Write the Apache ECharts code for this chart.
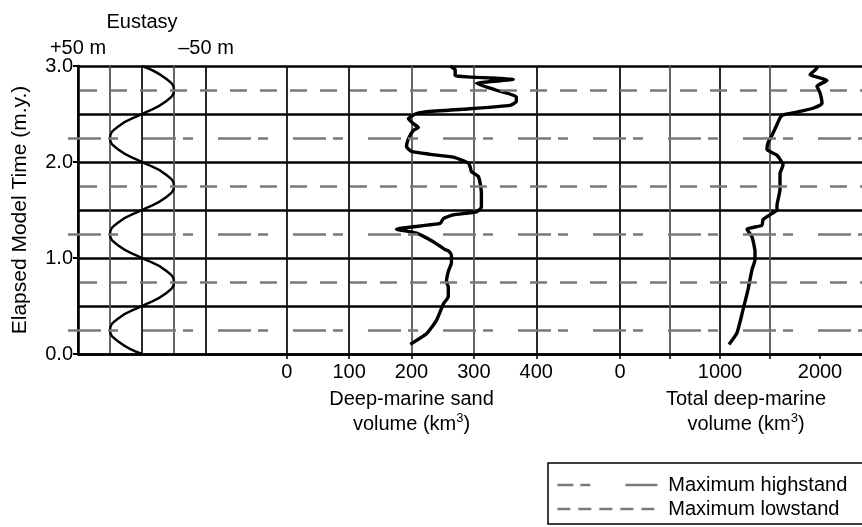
<!DOCTYPE html>
<html>
<head>
<meta charset="utf-8">
<script src="https://cdn.jsdelivr.net/npm/echarts@6/dist/echarts.min.js"></script>
<style>
  html, body { margin: 0; padding: 0; background: #fff; }
  #chart { width: 862px; height: 527px; }
</style>
</head>
<body>
<div id="chart"></div>
<script>
// ---- Data ----------------------------------------------------------------
// Eustatic sea level (m) through elapsed model time (m.y.)
const eustasyTime  = [0, 0.125, 0.25, 0.375, 0.5, 0.625, 0.75, 0.875, 1.0,
                      1.125, 1.25, 1.375, 1.5, 1.625, 1.75, 1.875, 2.0,
                      2.125, 2.25, 2.375, 2.5, 2.625, 2.75, 2.875, 3.0];
const eustasyLevel = [0, 18, 25, 18, 0, -18, -25, -18, 0,
                      18, 25, 18, 0, -18, -25, -18, 0,
                      18, 25, 18, 0, -18, -25, -18, 0];

// Deep-marine sand volume (km3)
const sandTime   = [0.10, 0.21, 0.35, 0.52, 0.60, 0.70, 0.75, 0.86, 0.95, 1.03, 1.07, 1.09,
                    1.17, 1.26, 1.30, 1.36, 1.41, 1.45, 1.48, 1.53, 1.67, 1.78, 1.85, 1.90,
                    1.95, 1.99, 2.05, 2.08, 2.11, 2.16, 2.24, 2.33, 2.36, 2.40, 2.45, 2.50,
                    2.52, 2.55, 2.59, 2.63, 2.68, 2.75, 2.82, 2.86, 2.90, 2.96, 3.00];
const sandVolume = [198, 224, 240, 251, 259, 259, 256, 259, 264, 264, 260, 253,
                    235, 208, 176, 246, 251, 267, 304, 312, 312, 310, 307, 296,
                    294, 291, 267, 230, 200, 192, 195, 203, 211, 203, 195, 206,
                    219, 283, 358, 368, 368, 335, 304, 363, 270, 270, 262];

// Total deep-marine volume (km3)
const totalTime   = [0.10, 0.22, 0.46, 0.67, 0.88, 0.98, 1.07, 1.22, 1.30, 1.34, 1.40,
                     1.45, 1.50, 1.55, 1.71, 1.88, 1.97, 2.07, 2.13, 2.20, 2.30, 2.39,
                     2.46, 2.49, 2.52, 2.56, 2.61, 2.72, 2.79, 2.85, 2.91, 2.98, 3.00];
const totalVolume = [1090, 1170, 1230, 1280, 1320, 1350, 1350, 1320, 1270, 1420, 1430,
                     1500, 1570, 1570, 1600, 1600, 1630, 1570, 1470, 1480, 1530, 1570,
                     1600, 1630, 1770, 1930, 2020, 2000, 1970, 2070, 1900, 1970, 1970];

// Times of maximum highstand / lowstand (m.y.)
const highstandTimes = [0.25, 1.25, 2.25];
const lowstandTimes  = [0.75, 1.75, 2.75];

// Labelled ticks
const timeTicks  = [0, 1, 2, 3];
const sandTicks  = [0, 100, 200, 300, 400];
const totalTicks = [0, 1000, 2000];
const totalTickMarks = [0, 500, 1000, 1500, 2000];

// ---- Styling / layout ----------------------------------------------------
const FONT = '"Liberation Sans", Arial, Helvetica, sans-serif';
const GRAY = '#7a7a7a';
const TOP = 66, BOTTOM = 527 - 354;
const HIGH_DASH = [33, 7, 10, 25];
const LOW_DASH = [17, 13];
const NO_SYMBOL = { color: 'rgba(0,0,0,0)', borderWidth: 0, opacity: 0 };

const zip = (xs, ys) => xs.map((x, i) => [x, ys[i]]);

const hiddenY = (gi) => ({ type: 'value', gridIndex: gi, min: 0, max: 3, show: false });

const nameRich = {
  sup: { fontSize: 13, verticalAlign: 'top', lineHeight: 18, fontFamily: FONT, color: '#000' }
};

const chart = echarts.init(document.getElementById('chart'), null, { renderer: 'canvas' });

chart.setOption({
  animation: false,
  textStyle: { fontFamily: FONT },
  grid: [
    // 0: frame with time axis and horizontal rules
    { left: 78, right: 0, top: TOP, bottom: BOTTOM },
    // 1: overlay for highstand / lowstand markers (reaches slightly left of the axis)
    { left: 68, right: 0, top: TOP, bottom: BOTTOM },
    // 2: eustasy panel
    { left: 78, width: 128, top: TOP, bottom: BOTTOM },
    // 3: deep-marine sand panel
    { left: 286.7, width: 249.6, top: TOP, bottom: BOTTOM },
    // 4: total deep-marine panel
    { left: 620, right: 0, top: TOP, bottom: BOTTOM }
  ],
  xAxis: [
    {
      type: 'value', gridIndex: 0, min: 0, max: 1,
      axisLine: { show: true, onZero: false, lineStyle: { color: '#000', width: 2.6 } },
      axisTick: { show: false }, axisLabel: { show: false }, splitLine: { show: false }
    },
    { type: 'value', gridIndex: 1, min: 0, max: 1, show: false },
    {
      type: 'value', gridIndex: 2, position: 'top', inverse: true,
      min: -50, max: 50, interval: 25,
      name: 'Eustasy', nameLocation: 'middle', nameGap: 34,
      nameTextStyle: { fontSize: 20, color: '#000', fontFamily: FONT },
      axisLine: { show: false }, axisTick: { show: false },
      axisLabel: {
        fontSize: 20, color: '#000', margin: 8, fontFamily: FONT,
        formatter: v => v === 50 ? '+50 m' : (v === -50 ? '\u201350 m' : '')
      },
      splitLine: { show: true, lineStyle: { color: ['#111', '#555', '#111', '#555', '#111'], width: 1.8 } }
    },
    {
      type: 'value', gridIndex: 3, position: 'bottom', min: 0, max: 400, interval: 100,
      name: 'Deep-marine sand\nvolume (km{sup|3})', nameLocation: 'middle', nameGap: 29,
      nameTextStyle: { fontSize: 20, lineHeight: 25, color: '#000', fontFamily: FONT, rich: nameRich },
      axisLine: { show: false },
      axisTick: { show: true, length: 5, lineStyle: { color: '#000', width: 1.5 } },
      axisLabel: {
        fontSize: 20, color: '#000', margin: 8, fontFamily: FONT,
        formatter: v => sandTicks.includes(v) ? String(v) : ''
      },
      splitLine: { show: true, lineStyle: { color: ['#111', '#111', '#555', '#555', '#111'], width: 1.8 } }
    },
    {
      type: 'value', gridIndex: 4, position: 'bottom', min: 0, max: 2420, interval: 500,
      name: 'Total deep-marine\nvolume (km{sup|3})', nameLocation: 'middle', nameGap: 29,
      nameTextStyle: { fontSize: 20, lineHeight: 25, color: '#000', fontFamily: FONT, rich: nameRich, padding: [0, 0, 0, 10] },
      axisLine: { show: false },
      axisTick: { show: true, length: 5, customValues: totalTickMarks, lineStyle: { color: '#000', width: 1.5 } },
      axisLabel: {
        fontSize: 20, color: '#000', margin: 8, fontFamily: FONT,
        customValues: totalTicks,
        formatter: v => String(v)
      },
      splitLine: { show: true, showMaxLine: false, lineStyle: { color: ['#111', '#555'], width: 1.8 } }
    }
  ],
  yAxis: [
    {
      type: 'value', gridIndex: 0, min: 0, max: 3, interval: 1,
      name: 'Elapsed Model Time (m.y.)', nameLocation: 'middle', nameGap: 47,
      nameTextStyle: { fontSize: 21, color: '#000', fontFamily: FONT },
      axisLine: { show: true, lineStyle: { color: '#000', width: 2.6 } },
      axisTick: { show: true, length: 5, lineStyle: { color: '#000', width: 2 } },
      axisLabel: {
        fontSize: 20, color: '#000', margin: 5, fontFamily: FONT,
        formatter: v => timeTicks.includes(v) ? v.toFixed(1) : ''
      },
      splitLine: { show: true, lineStyle: { color: '#000', width: 2.6 } },
      minorTick: { show: false, splitNumber: 2 },
      minorSplitLine: { show: true, lineStyle: { color: '#000', width: 2.6 } }
    },
    hiddenY(1), hiddenY(2), hiddenY(3), hiddenY(4)
  ],
  legend: {
    orient: 'vertical', left: 548, top: 463,
    padding: [12, 80, 5, 8], itemGap: 4,
    itemWidth: 100, itemHeight: 14,
    borderColor: '#000', borderWidth: 1.5,
    selectedMode: false,
    itemStyle: NO_SYMBOL,
    textStyle: { fontSize: 20, color: '#000', fontFamily: FONT, padding: [0, 0, 0, 6] },
    data: [
      { name: 'Maximum highstand', itemStyle: NO_SYMBOL,
        lineStyle: { color: GRAY, width: 2.6, type: [16, 7, 10, 35, 32] } },
      { name: 'Maximum lowstand', itemStyle: NO_SYMBOL,
        lineStyle: { color: GRAY, width: 2.6, type: [13, 8] } }
    ]
  },
  series: [
    {
      name: 'Maximum highstand', type: 'line', xAxisIndex: 1, yAxisIndex: 1,
      data: [], symbol: 'none', silent: true, z: 1,
      itemStyle: NO_SYMBOL,
      lineStyle: { color: GRAY, width: 2.6, type: HIGH_DASH },
      markLine: {
        silent: true, symbol: ['none', 'none'], label: { show: false }, animation: false,
        lineStyle: { color: GRAY, width: 2.6, type: HIGH_DASH, dashOffset: 0 },
        emphasis: { disabled: true },
        data: highstandTimes.map(t => ({ yAxis: t }))
      }
    },
    {
      name: 'Maximum lowstand', type: 'line', xAxisIndex: 1, yAxisIndex: 1,
      data: [], symbol: 'none', silent: true, z: 1,
      itemStyle: NO_SYMBOL,
      lineStyle: { color: GRAY, width: 2.6, type: LOW_DASH },
      markLine: {
        silent: true, symbol: ['none', 'none'], label: { show: false }, animation: false,
        lineStyle: { color: GRAY, width: 2.6, type: LOW_DASH, dashOffset: 18 },
        emphasis: { disabled: true },
        data: lowstandTimes.map(t => ({ yAxis: t }))
      }
    },
    {
      name: 'Eustasy', type: 'line', xAxisIndex: 2, yAxisIndex: 2,
      data: zip(eustasyLevel, eustasyTime), symbol: 'none', smooth: 0.5, z: 3,
      lineStyle: { color: '#000', width: 2.4 }
    },
    {
      name: 'Deep-marine sand volume', type: 'line', xAxisIndex: 3, yAxisIndex: 3,
      data: zip(sandVolume, sandTime), symbol: 'none', smooth: 0.15, z: 3,
      lineStyle: { color: '#000', width: 3.4, join: 'round' }
    },
    {
      name: 'Total deep-marine volume', type: 'line', xAxisIndex: 4, yAxisIndex: 4,
      data: zip(totalVolume, totalTime), symbol: 'none', smooth: 0.15, z: 3,
      lineStyle: { color: '#000', width: 3.4, join: 'round' }
    }
  ]
});
</script>
</body>
</html>
